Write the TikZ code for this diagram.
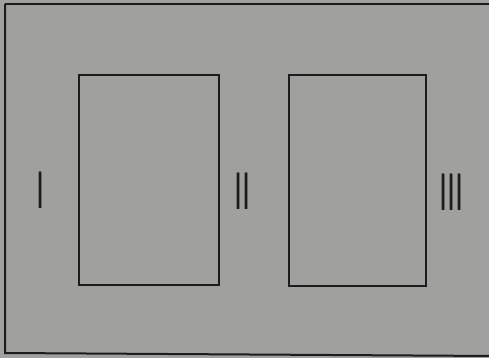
\documentclass[tikz,border=0pt]{standalone}
\usepackage{fontspec}
\setmainfont{Liberation Sans}
\definecolor{paper}{RGB}{160,161,158}
\definecolor{ink}{RGB}{28,28,28}
\tikzset{
  panel/.style={draw=ink, line width=2pt},
  frame/.style={draw=ink, line width=2pt},
  numeral/.style={text=ink, inner sep=0pt, font=\fontsize{53}{53}\selectfont}
}
\begin{document}
\begin{tikzpicture}[x=1pt,y=-1pt]
\useasboundingbox (0,0) rectangle (489,358);
\fill[paper] (0,0) rectangle (489,358);
\begin{scope}
\clip (0,0) rectangle (489,358);
\draw[frame] (5,4) -- (495,4);
\draw[frame] (5,4) -- (5,353) -- (495,356);
\end{scope}
\node[panel, minimum width=140pt, minimum height=210pt, inner sep=0pt, anchor=north west] (p1) at (77.5,74) {};
\node[panel, minimum width=137pt, minimum height=211pt, inner sep=0pt, anchor=north west] (p2) at (287.5,74) {};
\node[numeral] (n1) at (41,190) {\scalebox{0.55}[1]{I}};
\node[numeral] (n2) at (242.5,191) {\scalebox{0.55}[1]{II}};
\node[numeral] (n3) at (451.5,192) {\scalebox{0.55}[1]{III}};
\end{tikzpicture}
\end{document}
